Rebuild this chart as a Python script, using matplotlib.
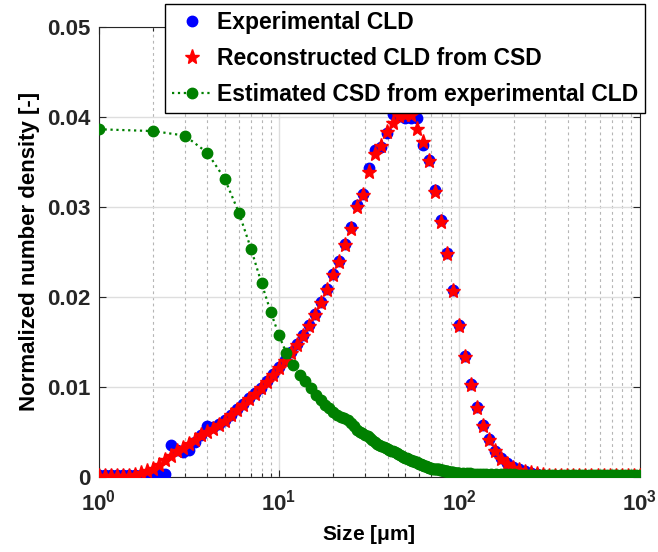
import numpy as np
import matplotlib
matplotlib.use("Agg")
import matplotlib.pyplot as plt
from matplotlib.ticker import LogLocator, FixedLocator, NullFormatter

plt.rcParams['font.family'] = ['Liberation Sans', 'DejaVu Sans']
plt.rcParams['font.weight'] = 'bold'
plt.rcParams['mathtext.fontset'] = 'custom'
plt.rcParams['mathtext.rm'] = 'Liberation Sans:bold'
plt.rcParams['mathtext.bf'] = 'Liberation Sans:bold'
plt.rcParams['mathtext.it'] = 'Liberation Sans:italic:bold'
plt.rcParams['mathtext.default'] = 'rm'

# ---- data ----
# FBRM chord-length channels (log-spaced, 1 .. 1000 um)
cld_size = np.logspace(0, 3, 91)

cld_exp = [
    0.0002, 0.0002, 0.0002, 0.0002, 0.0002, 0.0002, 0.0002, 0.0002, 0.0002, 0.0002,
    0.0003, 0.0003, 0.0035, 0.0030, 0.0027, 0.0030, 0.0039, 0.0046, 0.0056, 0.0055,
    0.0058, 0.0063, 0.0069, 0.0075, 0.0081, 0.0087, 0.0093, 0.0099, 0.0106, 0.0114,
    0.0122, 0.0130, 0.0138, 0.0147, 0.0157, 0.0168, 0.0181, 0.0194, 0.0208, 0.0225,
    0.0240, 0.0259, 0.0277, 0.0302, 0.0314, 0.0343, 0.0363, 0.0366, 0.0382, 0.0403,
    0.0401, 0.0399, 0.0398, 0.0398, 0.0369, 0.0352, 0.0319, 0.0285, 0.0249, 0.0207,
    0.0168, 0.0134, 0.0103, 0.0077, 0.0057, 0.0042, 0.0029, 0.0021, 0.0015, 0.0011,
    0.0008, 0.0006, 0.0004, 0.0003, 0.0002, 0.0001, 0.0001, 0.0001, 0.0001, 0.0001,
    0.0001, 0.0001, 0.0001, 0.0001, 0.0001, 0.0001, 0.0001, 0.0001, 0.0001, 0.0001,
    0.0001,
]

cld_rec = [
    0.0001, 0.0001, 0.0001, 0.0001, 0.0001, 0.0001, 0.0002, 0.0004, 0.0006, 0.0009,
    0.0013, 0.0018, 0.0023, 0.0028, 0.0032, 0.0036, 0.0041, 0.0046, 0.0050, 0.0053,
    0.0057, 0.0062, 0.0068, 0.0074, 0.0080, 0.0086, 0.0092, 0.0098, 0.0105, 0.0113,
    0.0121, 0.0129, 0.0137, 0.0146, 0.0156, 0.0167, 0.0180, 0.0193, 0.0207, 0.0224,
    0.0238, 0.0257, 0.0275, 0.0300, 0.0313, 0.0339, 0.0359, 0.0367, 0.0383, 0.0393,
    0.0401, 0.0402, 0.0402, 0.0386, 0.0372, 0.0351, 0.0316, 0.0283, 0.0247, 0.0206,
    0.0167, 0.0133, 0.0102, 0.0076, 0.0056, 0.0041, 0.0028, 0.0020, 0.0014, 0.0010,
    0.0007, 0.0005, 0.0004, 0.0003, 0.0002, 0.0001, 0.0001, 0.0001, 0.0001, 0.0001,
    0.0001, 0.0001, 0.0001, 0.0001, 0.0001, 0.0001, 0.0001, 0.0001, 0.0001, 0.0001,
    0.0001,
]

# estimated CSD: integer sizes 1..100 um, then sparser tail
csd_size_head = list(range(1, 101))
csd_head = [
    0.0386, 0.0384, 0.0379, 0.0360, 0.0331, 0.0293, 0.0253, 0.0215, 0.0183, 0.0157,
    0.0137, 0.0124, 0.0113, 0.0106, 0.0098, 0.0091, 0.0085, 0.0080, 0.0076, 0.0072,
    0.0068, 0.0066, 0.0065, 0.0063, 0.0060, 0.0056, 0.0052, 0.0050, 0.0048, 0.0046,
    0.0045, 0.0043, 0.0041, 0.0038, 0.0036, 0.0035, 0.0034, 0.0033, 0.0032, 0.0031,
    0.0030, 0.0029, 0.0028, 0.0027, 0.0026, 0.0025, 0.0024, 0.0023, 0.0022, 0.0021,
    0.0021, 0.0020, 0.0019, 0.0018, 0.0017, 0.0017, 0.0016, 0.0016, 0.0015, 0.0014,
    0.0014, 0.0013, 0.0013, 0.0012, 0.0012, 0.0011, 0.0011, 0.0010, 0.0010, 0.0010,
    0.0009, 0.0009, 0.0009, 0.0008, 0.0008, 0.0008, 0.0008, 0.0007, 0.0007, 0.0007,
    0.0007, 0.0006, 0.0006, 0.0006, 0.0006, 0.0006, 0.0005, 0.0005, 0.0005, 0.0005,
    0.0005, 0.0005, 0.0004, 0.0004, 0.0004, 0.0004, 0.0004, 0.0004, 0.0004, 0.0004,
]
csd_size_tail = [105, 110, 115, 120, 125, 130, 135, 140, 150, 160, 170, 180, 190, 200,
                 210, 220, 230, 240, 250, 265, 280, 295, 310, 325, 340, 360, 380, 400,
                 420, 440, 460, 480, 500, 525, 550, 575, 600, 630, 660, 690, 720, 750,
                 790, 830, 870, 910, 950, 1000]
csd_tail = [0.0004, 0.0004, 0.0004, 0.0003, 0.0003, 0.0003, 0.0003, 0.0003, 0.0003,
            0.0003, 0.0003, 0.0003, 0.0003, 0.0003, 0.0002, 0.0002, 0.0002, 0.0002,
            0.0002, 0.0002, 0.0002, 0.0002, 0.0002, 0.0002, 0.0002, 0.0002, 0.0002,
            0.0002, 0.0002, 0.0002, 0.0002, 0.0002, 0.0002, 0.0002, 0.0002, 0.0002,
            0.0002, 0.0002, 0.0002, 0.0002, 0.0002, 0.0002, 0.0002, 0.0002, 0.0002,
            0.0002, 0.0002, 0.0002]

csd_size = csd_size_head + csd_size_tail
csd_est = csd_head + csd_tail

y_ticks = [0, 0.01, 0.02, 0.03, 0.04, 0.05]
y_ticklabels = ['0', '0.01', '0.02', '0.03', '0.04', '0.05']

# ---- figure ----
fig = plt.figure(figsize=(6.58, 5.52), dpi=100)
ax = fig.add_axes([0.150, 0.1365, 0.822, 0.8152])

ax.plot(cld_size, cld_exp, linestyle='none', marker='o', color=(0, 0, 1),
        markersize=7.5, label='Experimental CLD', zorder=3)
ax.plot(cld_size, cld_rec, linestyle='none', marker='*', color=(1, 0, 0),
        markersize=11, label='Reconstructed CLD from CSD', zorder=4)
ax.plot(csd_size, csd_est, linestyle=':', linewidth=1.6, marker='o',
        color=(0, 0.5, 0), markersize=7.5,
        label='Estimated CSD from experimental CLD', zorder=5)

ax.set_xscale('log')
ax.set_xlim(1, 1000)
ax.set_ylim(0, 0.05)
ax.set_yticks(y_ticks)
ax.set_yticklabels(y_ticklabels)
ax.xaxis.set_major_locator(FixedLocator([1, 10, 100, 1000]))
ax.set_xticklabels(['$10^0$', '$10^1$', '$10^2$', '$10^3$'])
ax.xaxis.set_minor_locator(LogLocator(base=10, subs=np.arange(2, 10)))
ax.xaxis.set_minor_formatter(NullFormatter())

ax.grid(True, which='major', axis='both', color='#dedede', linestyle='-', linewidth=1.0)
ax.grid(True, which='minor', axis='x', color='#b5b5b5', linestyle=(0, (2.5, 3)), linewidth=0.8)
ax.set_axisbelow(True)

ax.tick_params(axis='both', which='both', direction='in', top=True, right=True,
               colors='#262626', labelsize=16, width=0.8)
ax.tick_params(axis='both', which='major', length=5)
ax.tick_params(axis='y', which='major', pad=6)
ax.tick_params(axis='x', which='major', pad=9)
ax.tick_params(axis='x', which='minor', length=3)
ax.tick_params(axis='y', which='minor', length=0)
for lbl in ax.get_xticklabels() + ax.get_yticklabels():
    lbl.set_fontweight('bold')
for s in ['left', 'bottom', 'right', 'top']:
    ax.spines[s].set_color('#262626')
    ax.spines[s].set_linewidth(0.8)

ax.set_xlabel('Size [$\\mu$m]', fontsize=15, fontweight='bold', labelpad=6)
ax.set_ylabel('Normalized number density [-]', fontsize=16, fontweight='bold', labelpad=5)

leg = ax.legend(loc='upper right', bbox_to_anchor=(0.981, 0.993),
                bbox_transform=fig.transFigure, fontsize=16.5, frameon=True,
                fancybox=False, framealpha=1, edgecolor='black',
                handlelength=1.8, handletextpad=0.2, borderpad=0.3,
                labelspacing=0.58, borderaxespad=0)
leg.get_frame().set_linewidth(1.0)
for t in leg.get_texts():
    t.set_fontweight('bold')

fig.savefig('out.png', dpi=100)
